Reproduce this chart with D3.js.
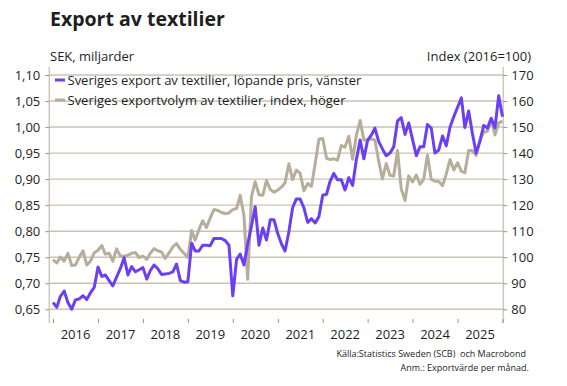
<!DOCTYPE html>
<html>
<head>
<meta charset="utf-8">
<script src="https://cdn.jsdelivr.net/npm/d3@7"></script>
<style>
  body { margin: 0; background: #fff; }
  svg text { font-family: "Open Sans", Lato, sans-serif; fill: #1e1e1e; }
</style>
</head>
<body>
<div id="chart"></div>
<script>
// monthly values, Jan 2016 .. Jan 2026
const exportValue = [
	0.663, 0.654, 0.675, 0.685, 0.663, 0.650, 0.668, 0.670, 0.676, 0.669,
	0.682, 0.692, 0.731, 0.713, 0.716, 0.705, 0.695, 0.712, 0.728, 0.749,
	0.716, 0.732, 0.722, 0.726, 0.730, 0.708, 0.724, 0.735, 0.728, 0.717,
	0.718, 0.719, 0.722, 0.737, 0.705, 0.702, 0.703, 0.777, 0.762, 0.762,
	0.773, 0.773, 0.772, 0.786, 0.786, 0.786, 0.782, 0.773, 0.676, 0.746,
	0.756, 0.735, 0.775, 0.810, 0.847, 0.773, 0.806, 0.783, 0.822, 0.822,
	0.795, 0.775, 0.762, 0.799, 0.845, 0.862, 0.862, 0.845, 0.817, 0.824,
	0.816, 0.828, 0.869, 0.871, 0.895, 0.911, 0.899, 0.899, 0.879, 0.903,
	0.888, 0.937, 0.975, 0.939, 0.975, 0.985, 0.998, 0.972, 0.958, 0.945,
	0.950, 0.962, 1.012, 1.018, 0.986, 1.008, 0.976, 0.945, 0.962, 0.962,
	1.005, 0.998, 0.950, 0.956, 0.983, 0.964, 1.000, 1.020, 1.038, 1.056,
	0.999, 1.031, 0.988, 0.950, 0.972, 1.003, 0.998, 1.017, 0.999, 1.060, 1.020
];
const exportVolume = [
	99.1, 97.8, 100.1, 98.5, 101.5, 96.8, 97.0, 100.0, 102.5, 97.0,
	98.5, 101.7, 102.7, 104.5, 101.2, 101.5, 98.5, 103.2, 100.5, 100.4,
	100.8, 101.5, 101.8, 99.9, 100.4, 99.2, 101.5, 103.3, 102.5, 102.0,
	99.5, 101.7, 104.0, 105.2, 103.0, 101.5, 99.9, 110.3, 106.5, 110.6,
	114.0, 111.4, 115.0, 118.3, 118.0, 117.2, 116.8, 117.0, 118.3, 118.7,
	123.8, 116.0, 91.5, 123.3, 129.0, 124.0, 123.8, 129.5, 126.0, 125.0,
	125.8, 127.0, 128.6, 135.9, 129.8, 133.5, 132.3, 125.5, 128.3, 127.2,
	136.0, 145.3, 145.6, 138.0, 137.5, 137.8, 137.3, 142.9, 142.3, 146.5,
	137.6, 146.7, 152.5, 145.0, 145.0, 145.5, 145.0, 137.0, 130.0, 136.0,
	131.5, 131.2, 141.0, 126.3, 121.8, 131.2, 128.9, 131.6, 128.0, 129.9,
	139.3, 129.9, 129.2, 129.1, 127.5, 132.0, 137.5, 133.5, 136.3, 133.0,
	132.5, 141.0, 141.0, 139.1, 145.0, 148.0, 148.5, 153.0, 147.0, 151.6, 152.3
];
const months = d3.timeMonth.range(new Date(2016, 0, 1), new Date(2026, 1, 1));
const years = [2016, 2017, 2018, 2019, 2020, 2021, 2022, 2023, 2024, 2025];
const leftTicks = [0.65, 0.70, 0.75, 0.80, 0.85, 0.90, 0.95, 1.00, 1.05, 1.10];
const rightTicks = [80, 90, 100, 110, 120, 130, 140, 150, 160, 170];
const legendLabels = [
	"Sveriges export av textilier, löpande pris, vänster",
	"Sveriges exportvolym av textilier, index, höger"
];

const W = 567, H = 386;
const plotL = 49.3, plotR = 503.3, plotT = 67, plotB = 323;
const purple = "#6c3ff5", beige = "#b7ad9b", grid = "#cbc2b3";
const font = "'Open Sans', Lato, sans-serif";

const svg = d3.select("#chart").append("svg").attr("width", W).attr("height", H);

const x = d3.scaleTime()
	.domain([new Date(2016, 0, 1), new Date(2026, 0, 1)])
	.range([53, 502.5]);
const yL = d3.scaleLinear().domain([0.65, 1.10]).range([309.3, 75]);
const yR = d3.scaleLinear().domain([80, 170]).range([309.3, 75]);

// gridlines
svg.append("g")
	.selectAll("line")
	.data(leftTicks)
	.enter()
	.append("line")
	.attr("x1", plotL).attr("x2", plotR)
	.attr("y1", (d) => yL(d)).attr("y2", (d) => yL(d))
	.attr("stroke", grid).attr("stroke-width", 1.4);

// frame
svg.append("line").attr("x1", plotL).attr("x2", plotL).attr("y1", plotT).attr("y2", plotB)
	.attr("stroke", "#cfc7ba").attr("stroke-width", 1.5);
svg.append("line").attr("x1", plotR).attr("x2", plotR).attr("y1", plotT).attr("y2", plotB)
	.attr("stroke", "#cfc7ba").attr("stroke-width", 1.5);

const fmt = (d) => d3.format(".2f")(d).replace(".", ",");

const ax = svg.append("g").attr("transform", `translate(${plotL},0)`)
	.call(d3.axisLeft(yL).tickValues(leftTicks).tickFormat(fmt).tickSize(4).tickPadding(5));
const ay = svg.append("g").attr("transform", `translate(${plotR},0)`)
	.call(d3.axisRight(yR).tickValues(rightTicks).tickSize(4).tickPadding(4));
const axb = svg.append("g").attr("transform", `translate(0,${plotB - 4})`)
	.call(d3.axisBottom(x).ticks(d3.timeYear.every(1)).tickFormat("").tickSize(4));

[ax, ay, axb].forEach((g) => {
	g.select(".domain").remove();
	g.selectAll(".tick line").attr("stroke", "#9c9385");
	g.selectAll("text").attr("font-size", 13).attr("fill", "#1e1e1e").style("font-family", font);
});

// year labels centred in each year
svg.append("g")
	.selectAll("text")
	.data(years)
	.enter()
	.append("text")
	.attr("x", (d) => (x(new Date(d, 0, 1)) + x(new Date(d + 1, 0, 1))) / 2)
	.attr("y", 339)
	.attr("text-anchor", "middle")
	.attr("font-size", 13)
	.text((d) => d);

// lines
const lineV = d3.line().x((d, i) => x(months[i])).y((d) => yR(d));
const lineE = d3.line().x((d, i) => x(months[i])).y((d) => yL(d));

svg.append("path").datum(exportVolume).attr("d", lineV)
	.attr("fill", "none").attr("stroke", beige).attr("stroke-width", 3).attr("stroke-linejoin", "round");
svg.append("path").datum(exportValue).attr("d", lineE)
	.attr("fill", "none").attr("stroke", purple).attr("stroke-width", 3).attr("stroke-linejoin", "round");

// legend
const lg = svg.append("g")
	.selectAll("g")
	.data(legendLabels)
	.enter()
	.append("g")
	.attr("transform", (d, i) => `translate(55,${80 + i * 20})`);
lg.append("line").attr("x1", 0).attr("x2", 10).attr("y1", 0).attr("y2", 0)
	.attr("stroke", (d, i) => (i == 0 ? purple : beige)).attr("stroke-width", 3);
lg.append("text").attr("x", 12.5).attr("y", 4.5).attr("font-size", 13).text((d) => d);

// titles
svg.append("text").attr("x", 50).attr("y", 26).attr("font-size", 19.5).attr("font-weight", "bold")
	.text("Export av textilier");
svg.append("text").attr("x", 50).attr("y", 61).attr("font-size", 13).text("SEK, miljarder");
svg.append("text").attr("x", 531).attr("y", 61).attr("font-size", 13).attr("text-anchor", "end")
	.text("Index (2016=100)");

// source
svg.append("text").attr("x", 526).attr("y", 357).attr("font-size", 9).attr("text-anchor", "end")
	.style("white-space", "pre").text("Källa:Statistics Sweden (SCB)  och Macrobond");
svg.append("text").attr("x", 529).attr("y", 371).attr("font-size", 9).attr("text-anchor", "end")
	.text("Anm.: Exportvärde per månad.");
</script>
</body>
</html>
